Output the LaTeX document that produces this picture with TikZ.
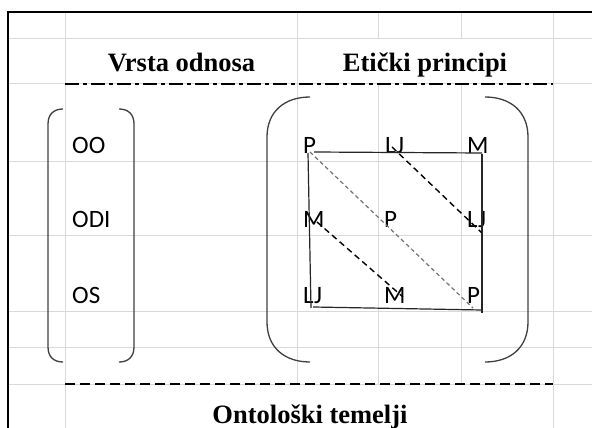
\documentclass[tikz,border=0pt]{standalone}
\usepackage{fontspec}
\newfontfamily\headfont{Liberation Serif}
\newfontfamily\lblfont{Carlito}
\definecolor{gridgray}{HTML}{D9D9D9}
\definecolor{brk}{HTML}{404040}
\begin{document}
\begin{tikzpicture}[x=1pt,y=-1pt,
  gridline/.style={draw=gridgray, line width=1pt},
  head/.style={font=\headfont\bfseries\fontsize{26.5}{30}\selectfont, anchor=base, inner sep=0pt},
  lbl/.style={font=\lblfont\fontsize{25}{30}\selectfont, anchor=base west, inner sep=0pt},
  bracket/.style={draw=brk, line width=1.3pt},
  sqline/.style={draw=black!85, line width=1.2pt},
  diagdash/.style={draw=black, line width=1.4pt, dash pattern=on 6pt off 4pt},
  diaggray/.style={draw=black!55, line width=1.2pt, dash pattern=on 4pt off 3pt},
  dashdotline/.style={draw=black, line width=2.6pt, dash pattern=on 14pt off 4pt on 4pt off 4pt},
  dashline/.style={draw=black, line width=2.6pt, dash pattern=on 10pt off 5pt}]
\useasboundingbox (0,0) rectangle (592,428);
\fill[white] (0,0) rectangle (592,428);
% grid
\foreach \yy in {39,84,161,235,311,347,384}
  \draw[gridline] (8,\yy) -- (592,\yy);
\draw[gridline] (65,12) -- (65,428);
\draw[gridline] (553,12) -- (553,428);
\draw[gridline] (297,12) -- (297,384);
\draw[gridline] (378,12) -- (378,39) (378,84) -- (378,384);
\draw[gridline] (461,12) -- (461,39) (461,84) -- (461,384);
% border
\draw[black, line width=1.5pt] (8,428) -- (8,12) -- (592,12);
% headings and rule lines
\node[head] (vrsta) at (181.5,72) {Vrsta odnosa};
\node[head] (eticki) at (425,72) {Etički principi};
\node[head] (temelji) at (310,423) {Ontološki temelji};
\coordinate (ddL) at (65,84);
\coordinate (ddR) at (553,84);
\coordinate (dL) at (65,384);
\coordinate (dR) at (553,384);
\draw[dashdotline] (ddL) -- (ddR);
\draw[dashline] (dL) -- (dR);
% left bracket
\draw[bracket] (63,109) .. controls (54,109) and (48,114) .. (48,124) -- (48,347) .. controls (48,357) and (54,362) .. (63,362);
\draw[bracket] (119,109) .. controls (128,109) and (134,114) .. (134,124) -- (134,347) .. controls (134,357) and (128,362) .. (119,362);
\node[lbl] (oo) at (72,153) {OO};
\node[lbl] (odi) at (72,227) {ODI};
\node[lbl] (os) at (72,303) {OS};
% large bracket
\draw[bracket] (310,97) .. controls (284,97) and (267,112) .. (267,137) -- (267,322) .. controls (267,347) and (284,362) .. (310,362);
\draw[bracket] (485,97) .. controls (511,97) and (528,112) .. (528,137) -- (528,322) .. controls (528,347) and (511,362) .. (485,362);
% letters
\node[lbl] (p1) at (303,153) {P};
\node[lbl] (lj1) at (385,153) {LJ};
\node[lbl] (m1) at (467,153) {M};
\node[lbl] (m2) at (303,227) {M};
\node[lbl] (p2) at (384,227) {P};
\node[lbl] (lj2) at (467,227) {LJ};
\node[lbl] (lj3) at (303,303) {LJ};
\node[lbl] (m3) at (384,303) {M};
\node[lbl] (p3) at (467,303) {P};
% square
\coordinate (tA) at (314,152);
\coordinate (tB) at (482,153);
\coordinate (rA) at (482,154);
\coordinate (rB) at (482,313);
\coordinate (bA) at (313,307);
\coordinate (bB) at (482,310);
\coordinate (lA) at (308,153);
\coordinate (lB) at (311,308);
\draw[sqline] (tA) -- (tB);
\draw[sqline] (rA) -- (rB);
\draw[sqline] (bA) -- (bB);
\draw[sqline] (lA) -- (lB);
% diagonals
\coordinate (gA) at (310,152);
\coordinate (gB) at (473,308);
\coordinate (kA) at (392,147);
\coordinate (kB) at (482,233);
\coordinate (hA) at (317,222);
\coordinate (hB) at (403,297);
\draw[diaggray] (gA) -- (gB);
\draw[diagdash] (kA) -- (kB);
\draw[diagdash] (hA) -- (hB);
\end{tikzpicture}
\end{document}
